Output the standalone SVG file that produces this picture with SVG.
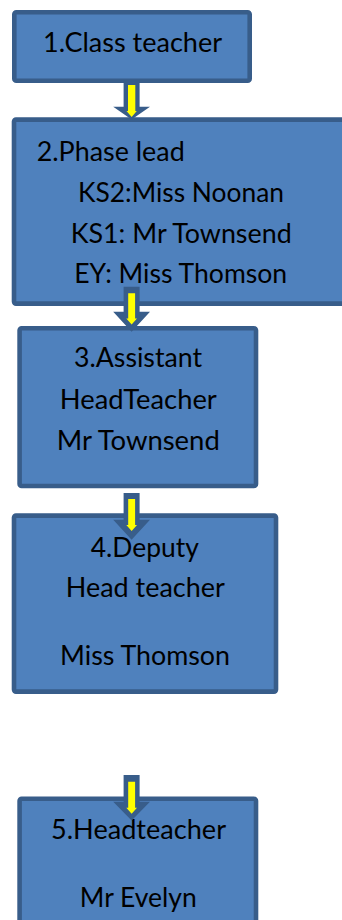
<svg xmlns="http://www.w3.org/2000/svg" width="342" height="920" viewBox="0 0 342 920">
<style>
.box{fill:#4F81BD;stroke:#385D8A;stroke-width:4.6}
.t{font-family:Lato,"Open Sans","Liberation Sans",sans-serif;font-size:27px;fill:#000}
.m{text-anchor:middle}
.ao{fill:#385D8A}
.ai{fill:#FFFF00}
</style>
<rect width="342" height="920" fill="#fff"/>
<g id="node1">
<rect class="box" x="14.3" y="12.3" width="235.4" height="68.4" rx="2"/>
<text class="t m" x="132.5" y="52" textLength="179" lengthAdjust="spacingAndGlyphs">1.Class teacher</text>
</g>
<g id="node2">
<rect class="box" x="14" y="119.6" width="340" height="184" rx="2"/>
<text class="t" x="36.7" y="160.7" textLength="148" lengthAdjust="spacingAndGlyphs">2.Phase lead</text>
<text class="t m" x="181" y="201.7" textLength="206" lengthAdjust="spacingAndGlyphs">KS2:Miss Noonan</text>
<text class="t m" x="181.2" y="242.7" textLength="221" lengthAdjust="spacingAndGlyphs">KS1: Mr Townsend</text>
<text class="t m" x="180.7" y="283.3" textLength="213" lengthAdjust="spacingAndGlyphs">EY: Miss Thomson</text>
</g>
<g id="node3">
<rect class="box" x="19.6" y="328.3" width="236.4" height="157.7" rx="2"/>
<text class="t m" x="138" y="367.3" textLength="128" lengthAdjust="spacingAndGlyphs">3.Assistant</text>
<text class="t m" x="138.3" y="409.3" textLength="157" lengthAdjust="spacingAndGlyphs">HeadTeacher</text>
<text class="t m" x="138.3" y="450" textLength="163" lengthAdjust="spacingAndGlyphs">Mr Townsend</text>
</g>
<g id="node4">
<rect class="box" x="14" y="515.6" width="262" height="176" rx="2"/>
<text class="t m" x="144.8" y="557" textLength="108" lengthAdjust="spacingAndGlyphs">4.Deputy</text>
<text class="t m" x="145.3" y="597.3" textLength="159" lengthAdjust="spacingAndGlyphs">Head teacher</text>
<text class="t m" x="145" y="665" textLength="170" lengthAdjust="spacingAndGlyphs">Miss Thomson</text>
</g>
<g id="node5">
<rect class="box" x="19.6" y="798.8" width="236.4" height="140" rx="2"/>
<text class="t m" x="138.5" y="839.3" textLength="175" lengthAdjust="spacingAndGlyphs">5.Headteacher</text>
<text class="t m" x="138.3" y="906.7" textLength="117" lengthAdjust="spacingAndGlyphs">Mr Evelyn</text>
</g>
<g id="connectors">
<g id="a1">
<polygon class="ao" points="123.6,82 139.6,82 139.6,106.7 150,106.7 131.6,119.5 113.2,106.7 123.6,106.7"/>
<polygon class="ai" points="128,85 135.3,85 135.3,111 136.8,111 131.65,117 126.5,111 128,111"/>
</g>
<g id="a2">
<polygon class="ao" points="123.6,286.7 139.6,286.7 139.6,311.7 150,311.7 131.6,331.7 113.2,311.7 123.6,311.7"/>
<polygon class="ai" points="128.2,293.3 135.1,293.3 135.1,318.5 137,318.5 131.65,324.5 126.3,318.5 128.2,318.5"/>
</g>
<g id="a3">
<polygon class="ao" points="123.6,493 139.6,493 139.6,519.7 150,519.7 131.6,539.7 113.2,519.7 123.6,519.7"/>
<polygon class="ai" points="128.2,499 135.1,499 135.1,525 137,525 131.65,531 126.3,525 128.2,525"/>
</g>
<g id="a4">
<polygon class="ao" points="123.6,775 139.6,775 139.6,801.7 150,801.7 131.6,820.5 113.2,801.7 123.6,801.7"/>
<polygon class="ai" points="128.2,781.7 135.1,781.7 135.1,807.7 137,807.7 131.65,813.7 126.3,807.7 128.2,807.7"/>
</g>
</g>
</svg>
